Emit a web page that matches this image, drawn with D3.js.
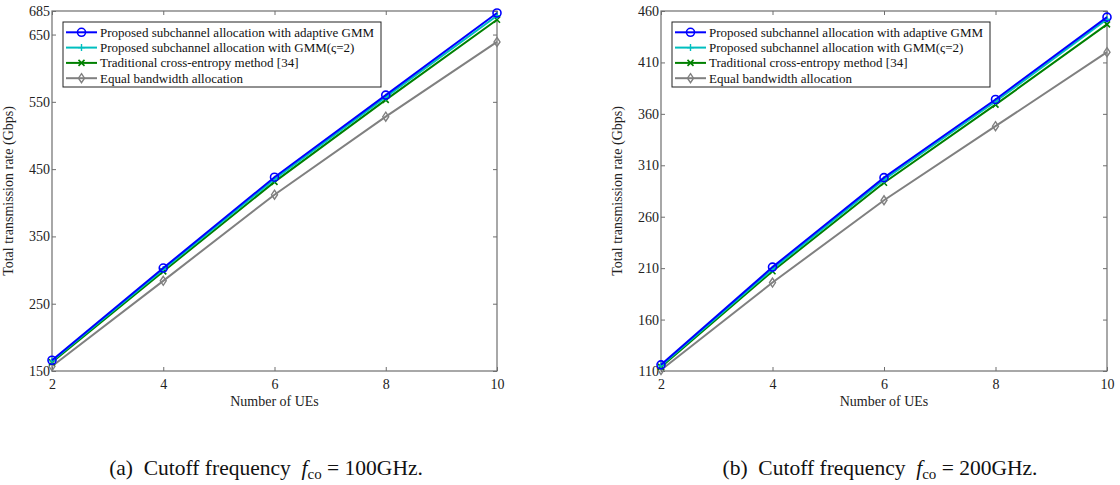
<!DOCTYPE html>
<html>
<head>
<meta charset="utf-8">
<script src="https://cdn.jsdelivr.net/npm/d3@7"></script>
<style>
  body { margin: 0; background: #fff; }
  svg, svg text { font-family: "Liberation Serif", "Times New Roman", Times, "DejaVu Serif", serif; }
</style>
</head>
<body>
<svg id="chart" width="1120" height="485"></svg>
<script>
// number of UEs
const ues = [2, 4, 6, 8, 10];

// (a) cutoff 100GHz
const rateA_adaptive = [166, 303, 438, 560, 682];
const rateA_gmm2 = [165, 301, 435, 557, 678];
const rateA_ce = [163, 298, 431, 553, 672];
const rateA_equal = [157, 284, 412, 528, 639];
const ticksA = [150, 250, 350, 450, 550, 650, 685];

// (b) cutoff 200GHz
const rateB_adaptive = [116, 211, 298, 374, 454];
const rateB_gmm2 = [115, 209, 296, 372, 452];
const rateB_ce = [114, 207, 293, 369, 447];
const rateB_equal = [111, 196, 276, 348, 420];
const ticksB = [110, 160, 210, 260, 310, 360, 410, 460];

const legendNames = [
  'Proposed subchannel allocation with adaptive GMM',
  'Proposed subchannel allocation with GMM(\u03C2=2)',
  'Traditional cross-entropy method [34]',
  'Equal bandwidth allocation'
];
const colors = ['#0000ff', '#00bfbf', '#008000', '#808080'];
const markers = ['circle', 'plus', 'cross', 'diamond'];
const serif = '"Liberation Serif", "Times New Roman", Times, serif';

const svg = d3.select('#chart');

function drawMarker(g, type, x, y, color) {
  if (type === 'circle') {
    g.append('circle').attr('cx', x).attr('cy', y).attr('r', 4)
      .attr('fill', 'none').attr('stroke', color).attr('stroke-width', 1.6);
  } else if (type === 'plus') {
    g.append('path').attr('d', `M${x-3.5},${y}H${x+3.5}M${x},${y-3.5}V${y+3.5}`)
      .attr('stroke', color).attr('stroke-width', 1.4);
  } else if (type === 'cross') {
    g.append('path').attr('d', `M${x-3},${y-3}L${x+3},${y+3}M${x-3},${y+3}L${x+3},${y-3}`)
      .attr('stroke', color).attr('stroke-width', 1.6);
  } else {
    g.append('path').attr('d', `M${x},${y-4.5}L${x+3},${y}L${x},${y+4.5}L${x-3},${y}Z`)
      .attr('fill', 'none').attr('stroke', color).attr('stroke-width', 1.4);
  }
}

function drawPanel(left, right, yDomain, yTicks, series, capLetter, freq, capX) {
  const top = 11, bottom = 371;
  const x = d3.scaleLinear().domain([2, 10]).range([left, right]);
  const y = d3.scaleLinear().domain(yDomain).range([bottom, top]);
  const g = svg.append('g').attr('font-family', serif);
  const axisColor = '#6e6e6e';

  // frame
  g.append('rect').attr('x', left).attr('y', top)
    .attr('width', right - left).attr('height', bottom - top)
    .attr('fill', 'none').attr('stroke', axisColor).attr('stroke-width', 1.2);

  const xAx = g.append('g').attr('transform', `translate(0,${bottom})`)
    .call(d3.axisBottom(x).tickValues(ues).tickSize(-4).tickPadding(8));
  const xAxTop = g.append('g').attr('transform', `translate(0,${top})`)
    .call(d3.axisTop(x).tickValues(ues).tickSize(-4).tickFormat(''));
  const yAx = g.append('g').attr('transform', `translate(${left},0)`)
    .call(d3.axisLeft(y).tickValues(yTicks).tickSize(-4).tickPadding(2));
  const yAxR = g.append('g').attr('transform', `translate(${right},0)`)
    .call(d3.axisRight(y).tickValues(yTicks).tickSize(-4).tickFormat(''));
  [xAx, xAxTop, yAx, yAxR].forEach(a => {
    a.attr('font-family', serif).attr('font-size', 14);
    a.select('.domain').remove();
    a.selectAll('line').attr('stroke', axisColor);
    a.selectAll('text').attr('fill', '#222');
  });

  const line = d3.line().x((d, i) => x(ues[i])).y(d => y(d));
  // draw from last to first so blue is on top
  for (let s = series.length - 1; s >= 0; s--) {
    g.append('path').datum(series[s]).attr('d', line)
      .attr('fill', 'none').attr('stroke', colors[s]).attr('stroke-width', 2);
    series[s].forEach((v, i) => drawMarker(g, markers[s], x(ues[i]), y(v), colors[s]));
  }

  // axis labels
  g.append('text').attr('x', (left + right) / 2).attr('y', 406)
    .attr('text-anchor', 'middle').attr('font-size', 14).attr('fill', '#222')
    .text('Number of UEs');
  g.append('text')
    .attr('transform', `translate(${left - 39},${(top + bottom) / 2}) rotate(-90)`)
    .attr('text-anchor', 'middle').attr('font-size', 14).attr('fill', '#222')
    .text('Total transmission rate (Gbps)');

  // legend
  const lx = left + 11, ly = 22, lw = 318, lh = 65, rowH = 15.3;
  const leg = g.append('g');
  leg.append('rect').attr('x', lx).attr('y', ly).attr('width', lw).attr('height', lh)
    .attr('fill', '#fff').attr('stroke', '#222').attr('stroke-width', 1);
  legendNames.forEach((name, i) => {
    const cy = ly + 10.3 + i * rowH;
    leg.append('line').attr('x1', lx + 3).attr('x2', lx + 34).attr('y1', cy).attr('y2', cy)
      .attr('stroke', colors[i]).attr('stroke-width', 2);
    drawMarker(leg, markers[i], lx + 18.5, cy, colors[i]);
    leg.append('text').attr('x', lx + 37).attr('y', cy + 4.3)
      .attr('font-size', 13).attr('fill', '#111').text(name);
  });

  // caption
  const cap = g.append('text').attr('x', capX).attr('y', 475)
    .attr('text-anchor', 'middle').attr('font-size', 21.5).attr('fill', '#111');
  cap.append('tspan').text(`(${capLetter})\u2002Cutoff frequency\u2002`);
  cap.append('tspan').attr('font-style', 'italic').text('f');
  cap.append('tspan').attr('dy', 4).attr('font-size', 15).text('co');
  cap.append('tspan').attr('dy', -4).text(` = ${freq}GHz.`);
}

drawPanel(52, 497, [150, 685], ticksA,
  [rateA_adaptive, rateA_gmm2, rateA_ce, rateA_equal], 'a', 100, 266);
drawPanel(661, 1107, [110, 460], ticksB,
  [rateB_adaptive, rateB_gmm2, rateB_ce, rateB_equal], 'b', 200, 880);
</script>
</body>
</html>
